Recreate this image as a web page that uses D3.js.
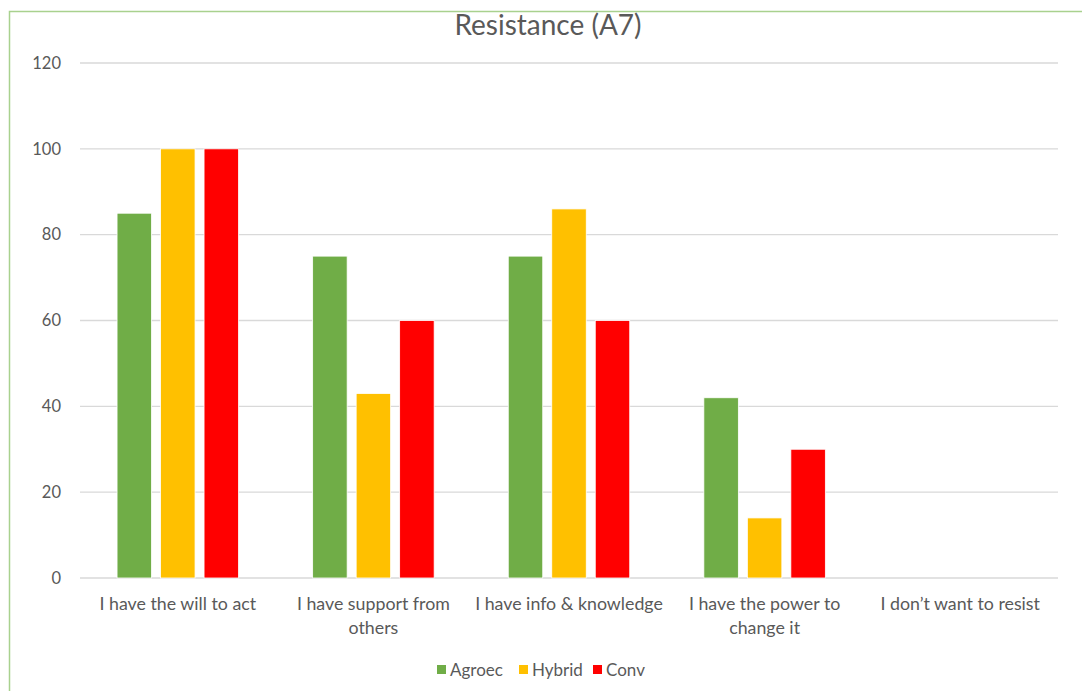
<!DOCTYPE html>
<html>
<head>
<meta charset="utf-8">
<script src="https://cdn.jsdelivr.net/npm/d3@7"></script>
<style>
  html, body { margin: 0; padding: 0; background: #fff; }
  svg { display: block; }
  text { font-family: Lato, "Open Sans", sans-serif; fill: #595959; }
</style>
</head>
<body>
<svg id="chart" width="1082" height="691"></svg>
<script>
const categories = [
  ["I have the will to act"],
  ["I have support from", "others"],
  ["I have info & knowledge"],
  ["I have the power to", "change it"],
  ["I don\u2019t want to resist"]
];
const seriesNames = ["Agroec", "Hybrid", "Conv"];
const seriesColors = ["#70ad47", "#ffc000", "#ff0000"];
const agroec = [85, 75, 75, 42, 0];
const hybrid = [100, 43, 86, 14, 0];
const conv = [100, 60, 60, 30, 0];
const yTicks = [0, 20, 40, 60, 80, 100, 120];
const title = "Resistance (A7)";

const series = [agroec, hybrid, conv];
const svg = d3.select("#chart");
const W = 1082, H = 691;

// chart border
svg.append("rect")
  .attr("x", 9.5).attr("y", 11.5)
  .attr("width", W + 10).attr("height", H + 10)
  .attr("fill", "none").attr("stroke", "#a9d18e").attr("stroke-width", 1.5);

const plot = { left: 80, right: 1058, top: 63, bottom: 578 };

const x = d3.scaleBand()
  .domain(d3.range(categories.length))
  .range([plot.left, plot.right]);

const y = d3.scaleLinear().domain([0, 120]).range([plot.bottom, plot.top]);

const barW = 34.5, step = 43.5;

// gridlines
svg.append("g").selectAll("line").data(yTicks).join("line")
  .attr("x1", plot.left).attr("x2", plot.right)
  .attr("y1", d => y(d)).attr("y2", d => y(d))
  .attr("stroke", "#d9d9d9").attr("stroke-width", 1.3);

// y axis labels
const yAxis = d3.axisLeft(y).tickValues(yTicks).tickSize(0).tickPadding(0);
const yg = svg.append("g").attr("transform", `translate(61,0)`).call(yAxis);
yg.select(".domain").remove();
yg.selectAll("text")
  .attr("font-size", 16.5).attr("fill", "#595959")
  .style("font-family", "Lato, 'Open Sans', sans-serif");

// bars
series.forEach((vals, si) => {
  svg.append("g").selectAll("rect").data(vals).join("rect")
    .attr("x", (d, i) => x(i) + x.bandwidth() / 2 + (si - 1) * step - barW / 2)
    .attr("width", barW)
    .attr("y", d => y(d))
    .attr("height", d => y(0) - y(d))
    .attr("fill", seriesColors[si])
    .attr("stroke", d => d > 0 ? "#ffffff" : "none")
    .attr("stroke-width", 0.8);
});

// x labels
const xl = svg.append("g");
categories.forEach((lines, i) => {
  const t = xl.append("text")
    .attr("x", x(i) + x.bandwidth() / 2)
    .attr("y", 610)
    .attr("text-anchor", "middle")
    .attr("font-size", 17.8);
  lines.forEach((ln, li) => {
    t.append("tspan").attr("x", x(i) + x.bandwidth() / 2)
      .attr("dy", li === 0 ? 0 : 24).text(ln);
  });
});

// title
svg.append("text")
  .attr("x", 548).attr("y", 35)
  .attr("text-anchor", "middle")
  .attr("font-size", 28)
  .text(title);

// legend
const legendX = [437, 519, 593];
const lg = svg.append("g");
seriesNames.forEach((n, i) => {
  lg.append("rect").attr("x", legendX[i]).attr("y", 665)
    .attr("width", 9).attr("height", 9).attr("fill", seriesColors[i]);
  lg.append("text").attr("x", legendX[i] + 13).attr("y", 676)
    .attr("font-size", 17).text(n);
});
</script>
</body>
</html>
